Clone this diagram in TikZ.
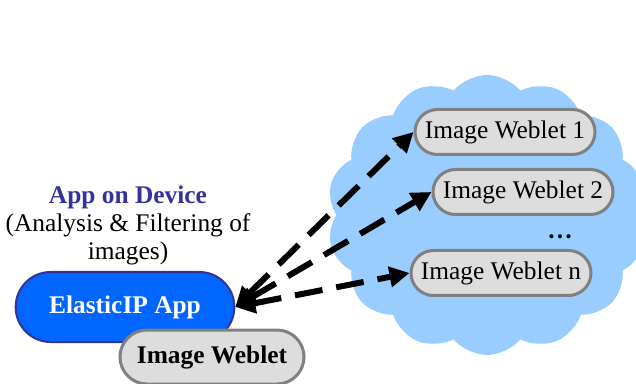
\documentclass[tikz,border=0pt]{standalone}
\usepackage{fontspec}
\setmainfont{Liberation Serif}
\usepackage{xcolor}
\usetikzlibrary{arrows.meta,shapes,positioning}

\definecolor{cloudblue}{HTML}{99CCFF}
\definecolor{webletfill}{HTML}{DDDDDD}
\definecolor{webletedge}{HTML}{808080}
\definecolor{appfill}{HTML}{0066FF}
\definecolor{devblue}{HTML}{333399}

\begin{document}
\begin{tikzpicture}[x=0.5pt, y=-0.5pt, font=\fontsize{12.7}{14}\selectfont,
    weblet/.style={rounded rectangle, draw=webletedge, fill=webletfill, line width=1.5pt,
      minimum width=90pt, minimum height=22.5pt, inner sep=0pt},
    app/.style={rounded rectangle, draw=devblue, fill=appfill, line width=1pt,
      minimum width=116pt, minimum height=35pt, text=white, font=\fontsize{12.7}{14}\selectfont\bfseries},
    link/.style={line width=3pt, dash pattern=on 14pt off 7pt,
      {Triangle[length=10pt,width=10pt]}-{Triangle[length=10pt,width=10pt]}}]

      \useasboundingbox (0,0) rectangle (636,384);

      % cloud of weblets
      \node[cloud, cloud puffs=14, cloud puff arc=100, aspect=1.1, fill=cloudblue,
        minimum width=160pt, minimum height=140pt] (cloud) at (487,215) {};

      \node[weblet] (w1) at (505,132) {Image Weblet 1};
      \node[weblet] (w2) at (523,192) {Image Weblet 2};
      \node (dots) at (560,237) {\textbf{\dots}};
      \node[weblet] (wn) at (501,273) {Image Weblet n};

      % device side
      \node[align=center] (caption) at (128,225)
        {\textcolor{devblue}{\textbf{App on Device}}\\(Analysis \& Filtering of\\images)};
      \node[app] (app) at (125,307) {ElasticIP App};
      \node[weblet, minimum width=92pt, minimum height=27pt, font=\fontsize{12.7}{14}\selectfont\bfseries]
        (local) at (212,357) {Image Weblet};

      \draw[link] (app.east) -- (w1.west);
      \draw[link] (app.east) -- (w2.west);
      \draw[link] (app.east) -- (wn.west);
    \end{tikzpicture}
\end{document}
